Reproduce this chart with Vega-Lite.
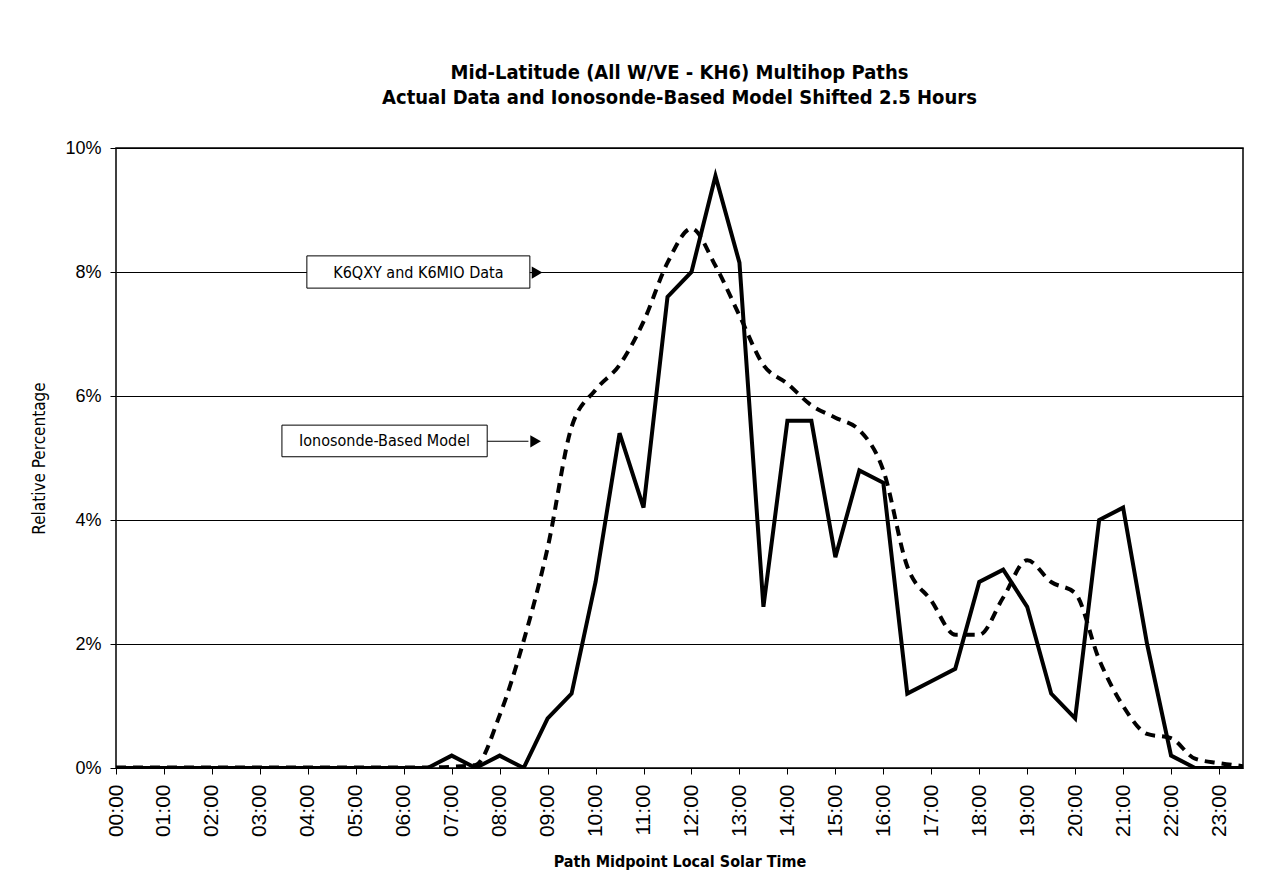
{
  "$schema": "https://vega.github.io/schema/vega-lite/v6.json",
  "autosize": {"type": "none"},
  "padding": {"left": 116, "top": 148, "right": 35, "bottom": 117},
  "width": 1127,
  "height": 620,
  "background": "white",
  "config": {
    "view": {"stroke": "black", "strokeWidth": 1.5},
    "font": "Liberation Sans"
  },
  "title": {
    "text": ["Mid-Latitude (All W/VE - KH6) Multihop Paths", "Actual Data and Ionosonde-Based Model Shifted 2.5 Hours"],
    "font": "DejaVu Sans Condensed",
    "fontSize": 20,
    "fontWeight": "bold",
    "color": "black",
    "lineHeight": 25,
    "offset": 31,
    "anchor": "middle"
  },
  "datasets": {
    "lines": [
      {"h": 0, "series": "Actual", "v": 0}, {"h": 0.5, "series": "Actual", "v": 0}, {"h": 1, "series": "Actual", "v": 0}, {"h": 1.5, "series": "Actual", "v": 0},
      {"h": 2, "series": "Actual", "v": 0}, {"h": 2.5, "series": "Actual", "v": 0}, {"h": 3, "series": "Actual", "v": 0}, {"h": 3.5, "series": "Actual", "v": 0},
      {"h": 4, "series": "Actual", "v": 0}, {"h": 4.5, "series": "Actual", "v": 0}, {"h": 5, "series": "Actual", "v": 0}, {"h": 5.5, "series": "Actual", "v": 0},
      {"h": 6, "series": "Actual", "v": 0}, {"h": 6.5, "series": "Actual", "v": 0}, {"h": 7, "series": "Actual", "v": 0.2}, {"h": 7.5, "series": "Actual", "v": 0},
      {"h": 8, "series": "Actual", "v": 0.2}, {"h": 8.5, "series": "Actual", "v": 0}, {"h": 9, "series": "Actual", "v": 0.8}, {"h": 9.5, "series": "Actual", "v": 1.2},
      {"h": 10, "series": "Actual", "v": 3.0}, {"h": 10.5, "series": "Actual", "v": 5.4}, {"h": 11, "series": "Actual", "v": 4.2}, {"h": 11.5, "series": "Actual", "v": 7.6},
      {"h": 12, "series": "Actual", "v": 8.0}, {"h": 12.5, "series": "Actual", "v": 9.55}, {"h": 13, "series": "Actual", "v": 8.15}, {"h": 13.5, "series": "Actual", "v": 2.6},
      {"h": 14, "series": "Actual", "v": 5.6}, {"h": 14.5, "series": "Actual", "v": 5.6}, {"h": 15, "series": "Actual", "v": 3.4}, {"h": 15.5, "series": "Actual", "v": 4.8},
      {"h": 16, "series": "Actual", "v": 4.6}, {"h": 16.5, "series": "Actual", "v": 1.2}, {"h": 17, "series": "Actual", "v": 1.4}, {"h": 17.5, "series": "Actual", "v": 1.6},
      {"h": 18, "series": "Actual", "v": 3.0}, {"h": 18.5, "series": "Actual", "v": 3.2}, {"h": 19, "series": "Actual", "v": 2.6}, {"h": 19.5, "series": "Actual", "v": 1.2},
      {"h": 20, "series": "Actual", "v": 0.8}, {"h": 20.5, "series": "Actual", "v": 4.0}, {"h": 21, "series": "Actual", "v": 4.2}, {"h": 21.5, "series": "Actual", "v": 2.0},
      {"h": 22, "series": "Actual", "v": 0.2}, {"h": 22.5, "series": "Actual", "v": 0}, {"h": 23, "series": "Actual", "v": 0}, {"h": 23.5, "series": "Actual", "v": 0},
      {"h": 0, "series": "Model", "v": 0.01}, {"h": 0.5, "series": "Model", "v": 0.01}, {"h": 1, "series": "Model", "v": 0.01}, {"h": 1.5, "series": "Model", "v": 0.01},
      {"h": 2, "series": "Model", "v": 0.01}, {"h": 2.5, "series": "Model", "v": 0.01}, {"h": 3, "series": "Model", "v": 0.01}, {"h": 3.5, "series": "Model", "v": 0.01},
      {"h": 4, "series": "Model", "v": 0.01}, {"h": 4.5, "series": "Model", "v": 0.01}, {"h": 5, "series": "Model", "v": 0.01}, {"h": 5.5, "series": "Model", "v": 0.01},
      {"h": 6, "series": "Model", "v": 0.01}, {"h": 6.5, "series": "Model", "v": 0.01}, {"h": 7, "series": "Model", "v": 0.02}, {"h": 7.5, "series": "Model", "v": 0.05},
      {"h": 8, "series": "Model", "v": 0.85}, {"h": 8.5, "series": "Model", "v": 2.05}, {"h": 9, "series": "Model", "v": 3.55}, {"h": 9.5, "series": "Model", "v": 5.5},
      {"h": 10, "series": "Model", "v": 6.1}, {"h": 10.5, "series": "Model", "v": 6.5}, {"h": 11, "series": "Model", "v": 7.2}, {"h": 11.5, "series": "Model", "v": 8.15},
      {"h": 12, "series": "Model", "v": 8.7}, {"h": 12.5, "series": "Model", "v": 8.1}, {"h": 13, "series": "Model", "v": 7.3}, {"h": 13.5, "series": "Model", "v": 6.5},
      {"h": 14, "series": "Model", "v": 6.2}, {"h": 14.5, "series": "Model", "v": 5.85}, {"h": 15, "series": "Model", "v": 5.65}, {"h": 15.5, "series": "Model", "v": 5.45},
      {"h": 16, "series": "Model", "v": 4.8}, {"h": 16.5, "series": "Model", "v": 3.25}, {"h": 17, "series": "Model", "v": 2.7}, {"h": 17.5, "series": "Model", "v": 2.15},
      {"h": 18, "series": "Model", "v": 2.15}, {"h": 18.5, "series": "Model", "v": 2.75}, {"h": 19, "series": "Model", "v": 3.35}, {"h": 19.5, "series": "Model", "v": 3.0},
      {"h": 20, "series": "Model", "v": 2.82}, {"h": 20.5, "series": "Model", "v": 1.75}, {"h": 21, "series": "Model", "v": 1.0}, {"h": 21.5, "series": "Model", "v": 0.55},
      {"h": 22, "series": "Model", "v": 0.48}, {"h": 22.5, "series": "Model", "v": 0.15}, {"h": 23, "series": "Model", "v": 0.08}, {"h": 23.5, "series": "Model", "v": 0.03}
    ],
    "notes": [
      {"label": "K6QXY and K6MIO Data", "x1": 3.98, "x2": 8.63, "y1": 7.74, "y2": 8.26, "xc": 6.305, "yc": 7.99, "ax2": 8.75, "tip": 8.78},
      {"label": "Ionosonde-Based Model", "x1": 3.46, "x2": 7.74, "y1": 5.02, "y2": 5.53, "xc": 5.6, "yc": 5.27, "ax2": 8.6, "tip": 8.75}
    ]
  },
  "layer": [
    {
      "data": {"name": "lines"},
      "transform": [{"filter": "datum.series === 'Model'"}],
      "mark": {"type": "line", "color": "black", "strokeWidth": 4, "strokeDash": [10, 7], "interpolate": "monotone", "clip": true},
      "encoding": {
        "x": {
          "field": "h", "type": "quantitative",
          "scale": {"domain": [0, 23.5], "nice": false, "zero": false},
          "axis": {
            "title": "Path Midpoint Local Solar Time",
            "values": [0,0.5,1,1.5,2,2.5,3,3.5,4,4.5,5,5.5,6,6.5,7,7.5,8,8.5,9,9.5,10,10.5,11,11.5,12,12.5,13,13.5,14,14.5,15,15.5,16,16.5,17,17.5,18,18.5,19,19.5,20,20.5,21,21.5,22,22.5,23,23.5],
            "labelExpr": "datum.value % 1 === 0 ? (datum.value < 10 ? '0' : '') + datum.value + ':00' : ''",
            "labelAngle": -90,
            "labelOverlap": false,
            "labelFont": "Liberation Sans",
            "labelFontSize": 21,
            "labelColor": "black",
            "labelPadding": 10,
            "tickSize": 6,
            "tickColor": "black",
            "tickWidth": 1,
            "domain": false,
            "grid": false,
            "titleFont": "DejaVu Sans Condensed",
            "titleFontSize": 16,
            "titleFontWeight": "bold",
            "titleColor": "black",
            "titlePadding": 17
          }
        },
        "y": {
          "field": "v", "type": "quantitative",
          "scale": {"domain": [0, 10], "nice": false},
          "axis": {
            "title": "Relative Percentage",
            "values": [0, 2, 4, 6, 8, 10],
            "labelExpr": "datum.value + '%'",
            "labelFont": "Liberation Sans",
            "labelFontSize": 18,
            "labelColor": "black",
            "labelPadding": 9,
            "tickSize": 6,
            "tickColor": "black",
            "domain": false,
            "grid": true,
            "gridColor": "black",
            "gridWidth": 1,
            "gridOpacity": 1,
            "titleFont": "DejaVu Sans Condensed",
            "titleFontSize": 17,
            "titleFontWeight": "normal",
            "titleColor": "black",
            "titlePadding": 16
          }
        }
      }
    },
    {
      "data": {"name": "lines"},
      "transform": [{"filter": "datum.series === 'Actual'"}],
      "mark": {"type": "line", "color": "black", "strokeWidth": 4, "strokeJoin": "miter", "clip": true},
      "encoding": {
        "x": {"field": "h", "type": "quantitative"},
        "y": {"field": "v", "type": "quantitative"}
      }
    },
    {
      "data": {"name": "notes"},
      "mark": {"type": "rect", "fill": "white", "stroke": "black", "strokeWidth": 1},
      "encoding": {
        "x": {"field": "x1", "type": "quantitative"},
        "x2": {"field": "x2"},
        "y": {"field": "y1", "type": "quantitative"},
        "y2": {"field": "y2"}
      }
    },
    {
      "data": {"name": "notes"},
      "mark": {"type": "text", "font": "DejaVu Sans Condensed", "fontSize": 16, "color": "black", "align": "center", "baseline": "middle"},
      "encoding": {
        "x": {"field": "xc", "type": "quantitative"},
        "y": {"field": "yc", "type": "quantitative"},
        "text": {"field": "label"}
      }
    },
    {
      "data": {"name": "notes"},
      "mark": {"type": "rule", "color": "black", "strokeWidth": 1},
      "encoding": {
        "x": {"field": "x2", "type": "quantitative"},
        "x2": {"field": "ax2"},
        "y": {"field": "yc", "type": "quantitative"}
      }
    },
    {
      "data": {"name": "notes"},
      "mark": {"type": "point", "shape": "triangle-right", "filled": true, "color": "black", "opacity": 1, "size": 150},
      "encoding": {
        "x": {"field": "tip", "type": "quantitative"},
        "y": {"field": "yc", "type": "quantitative"}
      }
    }
  ]
}
